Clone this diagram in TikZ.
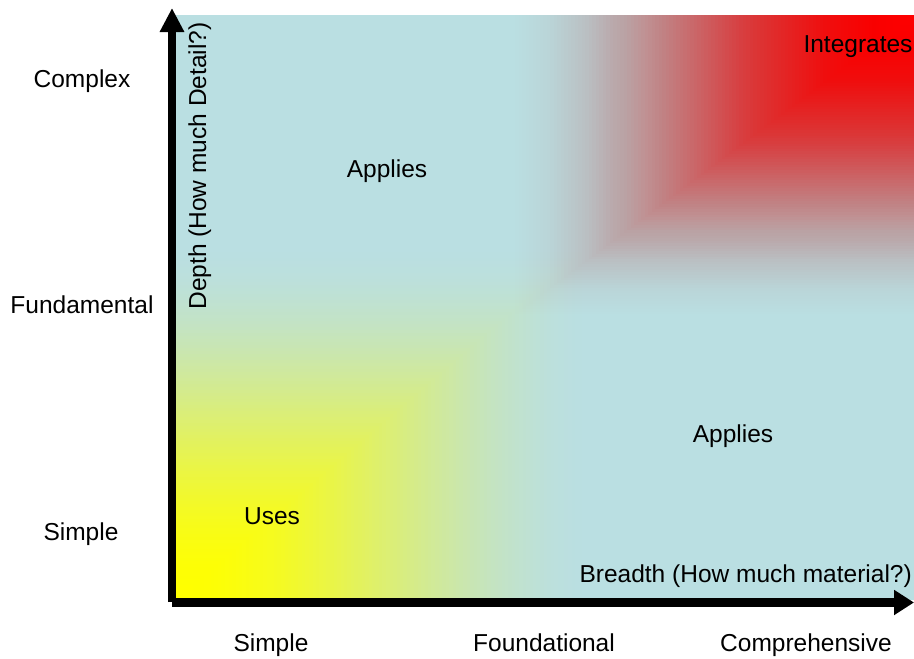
\documentclass[tikz,border=0pt]{standalone}
\usepackage{fontspec}
\setmainfont{Liberation Sans}
\usetikzlibrary{arrows.meta}
\definecolor{bgblue}{RGB}{186,223,226}
\definecolor{yel}{RGB}{255,255,0}
\definecolor{rd}{RGB}{255,0,0}
\begin{document}
\begin{tikzpicture}[x=1pt,y=-1pt,
  lbl/.style={font=\fontsize{24.5}{29}\selectfont, anchor=base, inner sep=0pt},
  vaxis/.style={line width=8pt, -{Triangle[length=24pt,width=23pt]}},
  haxis/.style={line width=9pt, -{Triangle[length=20pt,width=24pt]}}]
\useasboundingbox (0,0) rectangle (914,659);
% background
\fill[bgblue] (176,15) rectangle (914,600);
% yellow corner gradient (bottom left)
\foreach \i in {120,119,...,1}{
  \pgfmathsetmacro\s{\i/120}
  \pgfmathsetmacro\p{100*(1-3*\s*\s+2*\s*\s*\s)}
  \fill[yel!\p!bgblue] (176,600) rectangle ({176+420*\s},{600-360*\s});
}
% red corner gradient (top right), blended over what lies below
\foreach \i in {120,119,...,1}{
  \pgfmathsetmacro\s{\i/120}
  \pgfmathsetmacro\t{min(\s+1/120,1)}
  \pgfmathsetmacro\a{1-(3*\s*\s-2*\s*\s*\s)/(3*\t*\t-2*\t*\t*\t)}
  \fill[rd, fill opacity=\a] (914,15) rectangle ({914-420*\s},{15+315*\s});
}
% axes
\coordinate (vbase) at (172,602);
\coordinate (ytip) at (172,8);
\coordinate (hbase) at (172,602.5);
\coordinate (xtip) at (914,602.5);
\draw[vaxis] (vbase) -- (ytip);
\draw[haxis] (hbase) -- (xtip);
% labels
\node[lbl] (complex) at (82,87) {Complex};
\node[lbl] (fundamental) at (82,313) {Fundamental};
\node[lbl] (simpleL) at (81,540) {Simple};
\node[lbl] (simpleB) at (271,651) {Simple};
\node[lbl] (foundational) at (544,651) {Foundational};
\node[lbl] (comprehensive) at (806,651) {Comprehensive};
\node[lbl] (applies1) at (387,177) {Applies};
\node[lbl] (applies2) at (733,442) {Applies};
\node[lbl] (uses) at (272,524) {Uses};
\node[lbl] (integrates) at (858,52) {Integrates};
\node[lbl, anchor=base east] (breadth) at (912,582) {Breadth (How much material?)};
\node[lbl, rotate=90] (depth) at (206,166) {Depth (How much Detail?)};
\end{tikzpicture}
\end{document}
